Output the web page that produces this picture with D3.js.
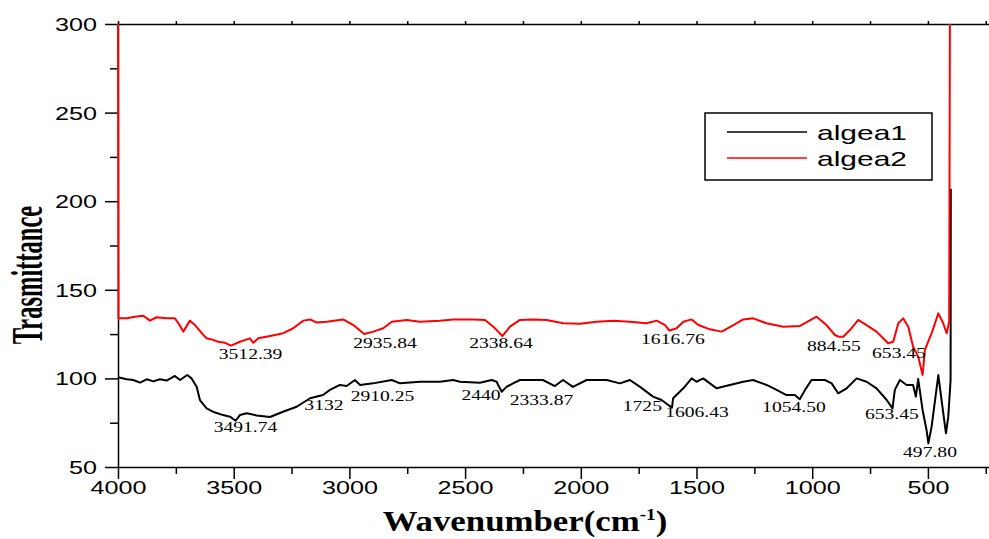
<!DOCTYPE html>
<head>
<meta charset="utf-8">
<script src="https://d3js.org/d3.v7.min.js"></script>
<style>
body {
	margin: 0;
	background: #fff;
}
.axis path, .axis line {
	stroke: #000;
	stroke-width: 1.5px;
}
.axis text {
	font-family: "Liberation Sans", Arial, sans-serif;
	font-size: 18px;
	fill: #000;
}
.line {
	fill: none;
	stroke-width: 2px;
	stroke-linejoin: round;
}
.peak {
	font-family: "Liberation Serif", "Times New Roman", serif;
	font-size: 14px;
	fill: #000;
}
</style>
</head>
<body>
<svg id="chart" width="989" height="539"></svg>

<script>

// wavenumber (cm-1) / transmittance pairs
var algea1Wn = [4000, 3962, 3934, 3905, 3876, 3847, 3819, 3790, 3754, 3732, 3701, 3682, 3660, 3646, 3617, 3590,
	3546, 3516, 3492, 3473, 3444, 3401, 3343, 3287, 3228, 3170, 3114, 3084, 3041, 3012, 2976, 2954, 2898,
	2817, 2781, 2695, 2609, 2552, 2522, 2436, 2385, 2364, 2342, 2321, 2293, 2263, 2164, 2112, 2077, 2034,
	1975, 1888, 1831, 1788, 1744, 1688, 1651, 1622, 1606, 1601, 1557, 1521, 1500, 1471, 1442, 1413, 1356,
	1298, 1256, 1197, 1154, 1111, 1075, 1054, 1031, 1003, 945, 916, 888, 851, 808, 765, 722, 678, 653,
	643, 621, 592, 564, 552, 542, 523, 506, 498, 484, 455, 441, 422, 412, 402, 401];
var algea1Val = [100.6, 99.5, 99.1, 97.6, 99.5, 98.3, 99.5, 98.8, 101.4, 99.1, 101.9, 100, 95.3, 87.8, 83.1, 81.2,
	79.3, 78.4, 76.1, 79.3, 80.3, 79.1, 78.2, 81.2, 84, 88.8, 90.6, 93.5, 96.3, 95.7, 99.1, 96.3, 97.2,
	99.1, 97.2, 98.1, 98.1, 99.1, 98.1, 97.6, 99.1, 98.1, 92.5, 95.2, 97.2, 99.1, 99.1, 95.7, 99.1, 95.2,
	99.1, 99.1, 97.2, 99.1, 95.2, 89.7, 87.8, 85, 83.5, 88.8, 94.4, 100, 98.1, 100, 97.2, 94.4, 96.3,
	98.1, 99.1, 96.3, 93.5, 90.6, 90.6, 88.2, 93.5, 99.1, 99.1, 97.2, 91.6, 94.4, 100, 98.1, 94.4, 87.8, 83.1,
	93.5, 99.1, 96.3, 96.3, 89.7, 99.6, 82.2, 70.9, 63.4, 72.8, 101.9, 87.8, 69, 78.4, 99.1, 207];

var algea2Wn = [4000, 3998, 3962, 3927, 3891, 3862, 3833, 3790, 3754, 3739, 3718, 3689, 3667, 3638, 3617, 3595,
	3567, 3538, 3512, 3473, 3430, 3415, 3394, 3343, 3286, 3243, 3199, 3170, 3141, 3098, 3027, 2983, 2936,
	2897, 2854, 2817, 2753, 2695, 2609, 2551, 2465, 2414, 2378, 2339, 2306, 2263, 2206, 2148, 2076, 2004,
	1932, 1860, 1788, 1716, 1672, 1636, 1617, 1586, 1557, 1521, 1492, 1442, 1391, 1341, 1298, 1255, 1197,
	1125, 1053, 981, 938, 902, 885, 866, 837, 801, 765, 722, 672, 650, 628, 607, 585, 564, 542, 523, 513,
	484, 455, 434, 419, 408, 405];
var algea2Val = [300, 133.9, 133.9, 134.8, 135.4, 132.6, 134.5, 133.9, 133.9, 131.1, 126.4, 132.6, 130.1, 125.5, 122.6, 122,
	120.7, 120.1, 118.5, 120.7, 122.6, 120.1, 122.6, 123.9, 125.5, 128.3, 132.6, 133.3, 131.5, 132, 133.3, 130.1, 125.1,
	126.4, 128.3, 132, 133, 132, 132.6, 133.3, 133.3, 133, 129.2, 123.9, 129.2, 133, 133.3, 133, 131.1, 130.8,
	132, 132.6, 132, 131.1, 132.6, 130.1, 127, 128.3, 132, 133.3, 130.1, 127.7, 126.4, 130.1, 133.3, 133.9, 131.1,
	129.2, 129.6, 134.8, 130.1, 124.5, 123.5, 123.5, 127.3, 133, 130.1, 126.4, 119.8, 120.7, 131.1, 133.9, 129.2, 117.9, 112.3, 101.9, 116.1,
	125.5, 136.7, 131.1, 125.5, 132, 300];

// peak labels: text, centre wavenumber, baseline value
var peakText = ["3512.39", "2935.84", "2338.64", "1616.76", "884.55", "653.45",
	"3491.74", "3132", "2910.25", "2440", "2333.87", "1725", "1606.43", "1054.50", "653.45", "497.80"];
var peakWn = [3427, 2846, 2345, 1602, 906, 625, 3449, 3110, 2857, 2431, 2170, 1734, 1498, 1079, 656, 491];
var peakVal = [111, 117.2, 117.2, 119.4, 115.5, 111.5, 69.8, 82.2, 87.3, 87.8, 85, 81.6, 78.2, 81, 77.1, 55.7];

var seriesNames = ["algea1", "algea2"];
var seriesColors = ["#000000", "#ff0000"];
var xMajor = [4000, 3500, 3000, 2500, 2000, 1500, 1000, 500];
var xMinor = [3750, 3250, 2750, 2250, 1750, 1250, 750, 250];
var yMajor = [50, 100, 150, 200, 250, 300];
var yMinor = [75, 125, 175, 225, 275];

var svg = d3.select("#chart"),
	margin = {top: 24, right: 0, bottom: 72, left: 118},
	width = +svg.attr("width"),
	height = +svg.attr("height");

var x = d3.scaleLinear()
	.domain([4000, 236])
	.range([margin.left, width - margin.right]);

var y = d3.scaleLinear()
	.domain([50, 300])
	.range([height - margin.bottom, margin.top]);

var sx = 1.4; // the original picture is stretched sideways

var series = [
	{id: seriesNames[0], color: seriesColors[0], values: algea1Wn.map((w, i) => ({wn: w, val: algea1Val[i]}))},
	{id: seriesNames[1], color: seriesColors[1], values: algea2Wn.map((w, i) => ({wn: w, val: algea2Val[i]}))}
];

var line = d3.line()
	.x(d => x(d.wn))
	.y(d => y(d.val));

// minor ticks
svg.append("g")
	.attr("class", "axis")
	.attr("transform", "translate(0," + y(50) + ")")
	.call(d3.axisBottom(x).tickValues(xMinor).tickSize(7).tickFormat(""))
	.select(".domain").remove();

svg.append("g")
	.attr("class", "axis")
	.attr("transform", "translate(" + x(4000) + ",0)")
	.call(d3.axisLeft(y).tickValues(yMinor).tickSize(8).tickFormat(""))
	.select(".domain").remove();

// top axis line
svg.append("g")
	.attr("class", "axis")
	.attr("transform", "translate(0," + y(300) + ")")
	.call(d3.axisTop(x).tickValues(xMajor.concat(xMinor)).tickSizeInner(3).tickSizeOuter(0).tickFormat(""));

var xAxis = svg.append("g")
	.attr("class", "axis x-axis")
	.attr("transform", "translate(0," + y(50) + ")")
	.call(d3.axisBottom(x).tickValues(xMajor).tickSizeInner(12).tickSizeOuter(0).tickFormat(d3.format("d")));

xAxis.selectAll("text")
	.attr("y", 27)
	.attr("dy", 0)
	.attr("transform", "scale(" + sx + ",1)");

var yAxis = svg.append("g")
	.attr("class", "axis y-axis")
	.attr("transform", "translate(" + x(4000) + ",0)")
	.call(d3.axisLeft(y).tickValues(yMajor).tickSizeInner(13).tickSizeOuter(0));

yAxis.selectAll("text")
	.attr("x", -21 / sx)
	.attr("dy", "0.36em")
	.attr("transform", "scale(" + sx + ",1)");

// spectra
svg.selectAll(".counts")
	.data(series)
	.enter().append("path")
	.attr("class", "line counts")
	.style("stroke", d => d.color)
	.attr("d", d => line(d.values));

// peak labels
svg.selectAll(".peak")
	.data(peakText)
	.enter().append("text")
	.attr("class", "peak")
	.attr("text-anchor", "middle")
	.attr("transform", (d, i) => "translate(" + x(peakWn[i]) + "," + y(peakVal[i]) + ") scale(" + sx + ",1)")
	.text(d => d);

// legend
var legend = svg.append("g")
	.attr("transform", "translate(705,113)");

legend.append("rect")
	.attr("width", 227)
	.attr("height", 67)
	.style("fill", "#fff")
	.style("stroke", "#000")
	.style("stroke-width", 1.5);

var item = legend.selectAll(".item")
	.data(series)
	.enter().append("g")
	.attr("class", "item")
	.attr("transform", (d, i) => "translate(0," + (19 + i * 26) + ")");

item.append("line")
	.attr("x1", 22)
	.attr("x2", 102)
	.style("stroke", d => d.color)
	.style("stroke-width", 1.5);

item.append("text")
	.attr("transform", "translate(112,8) scale(1.5,1)")
	.style("font-family", "'Liberation Sans', Arial, sans-serif")
	.style("font-size", "20px")
	.text(d => d.id);

// axis titles
var xTitle = svg.append("text")
	.attr("text-anchor", "middle")
	.attr("transform", "translate(525,531) scale(1.2,1)")
	.style("font-family", "'Liberation Serif', 'Times New Roman', serif")
	.style("font-weight", "bold")
	.style("font-size", "29px");

xTitle.append("tspan").text("Wavenumber(cm");
xTitle.append("tspan").attr("dy", -11).style("font-size", "16px").text("-1");
xTitle.append("tspan").attr("dy", 11).text(")");

svg.append("text")
	.attr("text-anchor", "middle")
	.attr("transform", "translate(42,275) scale(1.8,1) rotate(-90)")
	.style("font-family", "'Liberation Serif', 'Times New Roman', serif")
	.style("font-weight", "bold")
	.style("font-size", "24.5px")
	.text("Trasmittance");

</script>
</body>
